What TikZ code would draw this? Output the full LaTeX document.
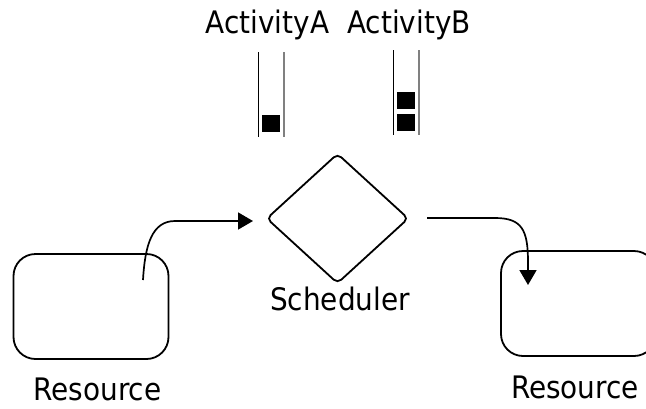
\documentclass[tikz,border=0pt]{standalone}
\usepackage{fontspec}
\setmainfont{DejaVu Sans Condensed}
\usetikzlibrary{shapes.geometric,arrows.meta}

\begin{document}
\begin{tikzpicture}[x=1pt,y=-1pt,
  lbl/.style={anchor=base,inner sep=0pt,font=\fontsize{31}{37}\selectfont},
  resbox/.style={draw,line width=1.8pt,rounded corners=22pt,minimum width=155pt,minimum height=105pt,inner sep=0pt},
  gate/.style={draw,diamond,line width=1.8pt,rounded corners=5pt,minimum width=142pt,minimum height=130pt,inner sep=0pt},
  token/.style={fill=black,minimum width=18pt,minimum height=17pt,inner sep=0pt},
  flow/.style={line width=1.7pt,-{Triangle[length=15pt,width=17pt]}},
  wallL/.style={line width=1.6pt,black},
  wallR/.style={line width=1.6pt,black!50}
]
\useasboundingbox (0,0) rectangle (646,408);
\clip (0,0) rectangle (646,408);

% queue titles
\node[lbl] (titleA) at (267.5,33) {ActivityA};
\node[lbl] (titleB) at (409,33) {ActivityB};

% queue of ActivityA
\draw[wallL] (258.5,52) -- (258.5,137);
\draw[wallR] (284,52) -- (284,137);
\node[token] (tokA1) at (271,123.5) {};

% queue of ActivityB
\draw[wallL] (393.5,50) -- (393.5,135);
\draw[wallR] (419,50) -- (419,135);
\node[token] (tokB1) at (406,100.5) {};
\node[token] (tokB2) at (406,122) {};

% scheduler
\node[gate] (sched) at (337.5,218.5) {};
\node[lbl] (schedlbl) at (340,310) {Scheduler};

% resources
\node[resbox] (resL) at (91,306.5) {};
\node[lbl] (resLlbl) at (97.5,400) {Resource};
\node[resbox] (resR) at (578.5,303.5) {};
\node[lbl] (resRlbl) at (575,398) {Resource};

% connectors
\coordinate (srcL) at (143,280);
\coordinate (tipL) at (253,221);
\coordinate (srcR) at (427,218);
\coordinate (tipR) at (528,285);

\draw[flow] (srcL) .. controls (145,245) and (152,221) .. (175,221) -- (tipL);
\draw[flow] (srcR) -- (495,218) .. controls (522,218) and (528,230) .. (528,262) -- (tipR);
\end{tikzpicture}
\end{document}
